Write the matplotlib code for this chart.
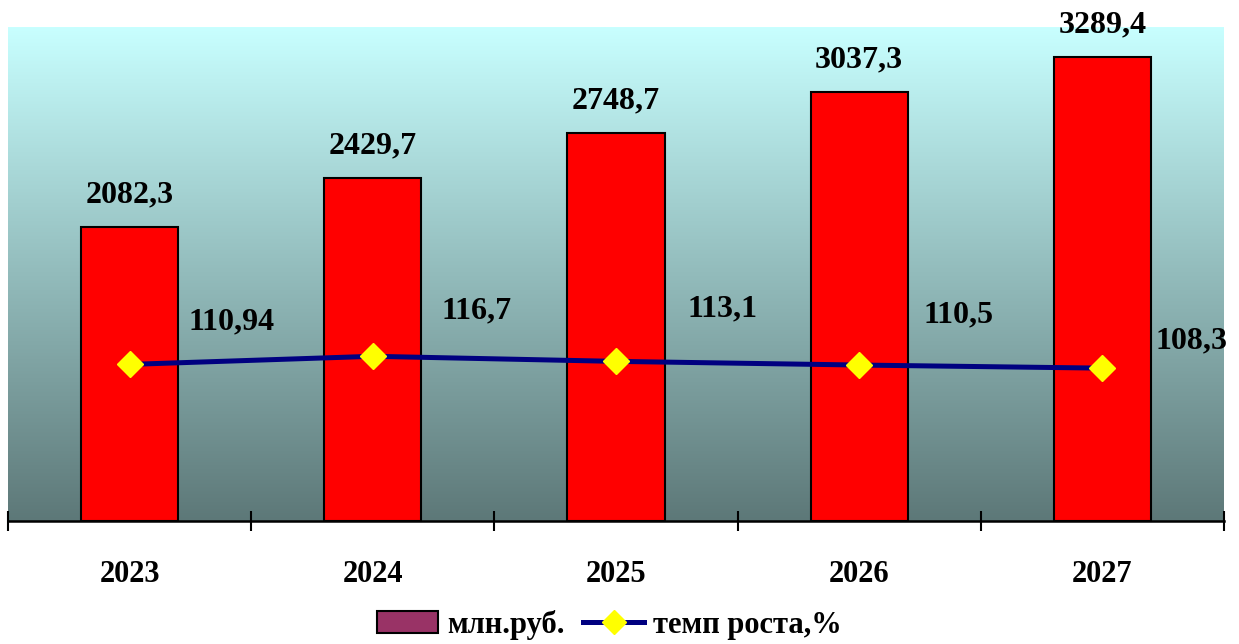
import numpy as np
import matplotlib
matplotlib.use("Agg")
import matplotlib.pyplot as plt
from matplotlib.patches import Patch
from matplotlib.lines import Line2D

years = ["2023", "2024", "2025", "2026", "2027"]
amounts = [2082.3, 2429.7, 2748.7, 3037.3, 3289.4]
growth = [110.94, 116.7, 113.1, 110.5, 108.3]
amount_labels = ["2082,3", "2429,7", "2748,7", "3037,3", "3289,4"]
growth_labels = ["110,94", "116,7", "113,1", "110,5", "108,3"]
legend_labels = ["млн.руб.", "темп роста,%"]

growth_offsets = [(102, 43), (104, 45), (107, 52), (99, 50), (89, 27)]

plt.rcParams['font.family'] = ['Liberation Serif', 'DejaVu Serif']
plt.rcParams['font.weight'] = 'bold'

fig = plt.figure(figsize=(12.39, 6.44), dpi=100)
ax = fig.add_axes([8/1239, 1 - 521/644, (1224 - 8)/1239, (521 - 27)/644])

# gradient background
top = np.array([200, 255, 255]) / 255
bot = np.array([93, 120, 120]) / 255
t = np.linspace(0, 1, 256)[:, None]
grad = (top[None, :] * (1 - t) + bot[None, :] * t)[:, None, :]
ax.imshow(grad, extent=[0, 1, 0, 1], transform=ax.transAxes, aspect='auto', zorder=0)

x = np.arange(len(years))
ax.bar(x, amounts, width=0.4, color='#FF0000', edgecolor='black', linewidth=1.5, zorder=2)
ax.set_xlim(-0.5, len(years) - 0.5)
ax.set_ylim(0, 3500)

for xi, v, lab in zip(x, amounts, amount_labels):
    ax.annotate(lab, (xi, v), xytext=(0, 32), textcoords='offset pixels',
                ha='center', va='center', fontsize=23, fontweight='bold', zorder=5)

for s in ['left', 'right', 'top']:
    ax.spines[s].set_visible(False)
ax.spines['bottom'].set_linewidth(1.8)
ax.set_yticks([])
ax.set_xticks(x)
ax.set_xticklabels(years, fontsize=22, fontweight='bold')
ax.tick_params(axis='x', which='major', length=0, pad=28)
ax.set_xticks(np.arange(-0.5, len(years)), minor=True)
ax.tick_params(axis='x', which='minor', direction='inout', length=14, width=1.5, color='black')

ax2 = ax.twinx()
ax2.set_ylim(0, 350)
ax2.plot(x, growth, color='#000080', linewidth=3.6, marker='D', markersize=13,
         markerfacecolor='#FFFF00', markeredgecolor='#FFFF00', zorder=4)
for xi, v, lab, off in zip(x, growth, growth_labels, growth_offsets):
    ax2.annotate(lab, (xi, v), xytext=off, textcoords='offset pixels',
                 ha='center', va='center', fontsize=23, fontweight='bold')
ax2.set_yticks([])
for s in ax2.spines.values():
    s.set_visible(False)

handles = [Patch(facecolor='#993366', edgecolor='black', linewidth=1.5),
           Line2D([0], [0], color='#000080', linewidth=3.6, marker='D', markersize=12,
                  markerfacecolor='#FFFF00', markeredgecolor='#FFFF00')]
fig.legend(handles, legend_labels, loc='center', bbox_to_anchor=(0.492, 0.03),
           ncol=2, frameon=False, prop={'size': 22, 'weight': 'bold'},
           handlelength=2.0, handletextpad=0.3, columnspacing=0.6)

fig.savefig('out.png', dpi=100)
